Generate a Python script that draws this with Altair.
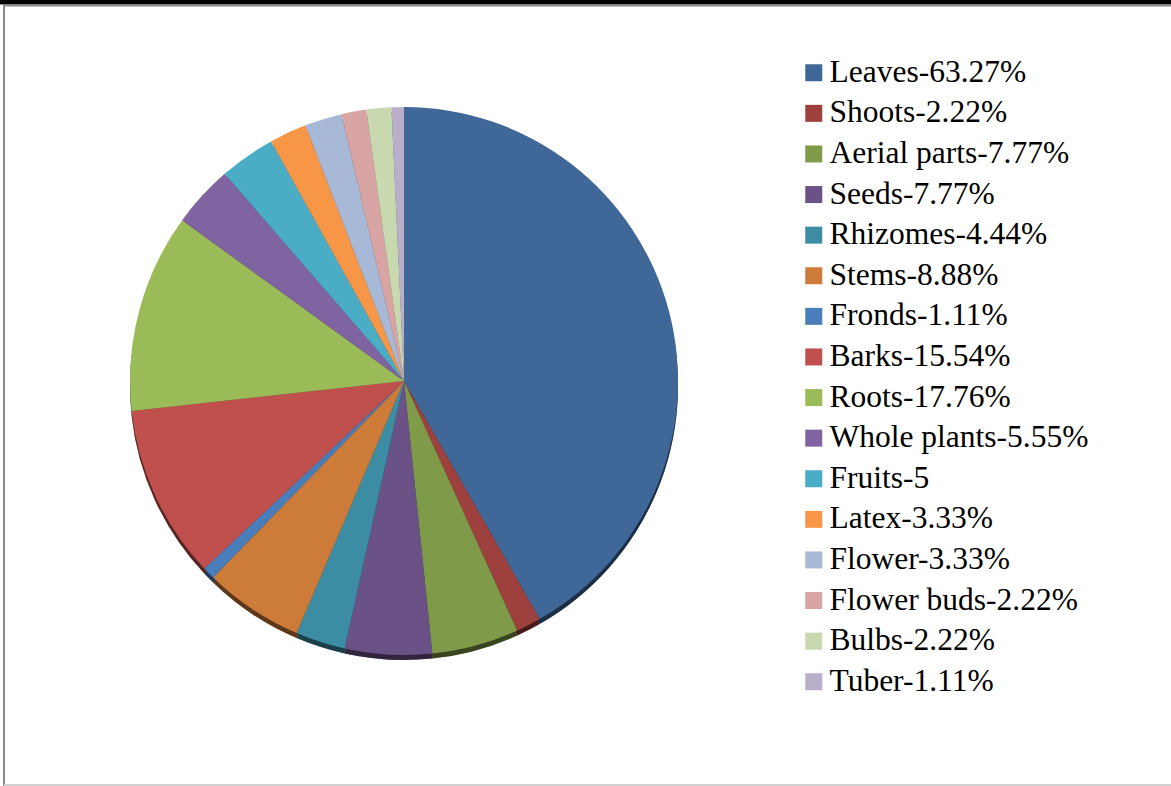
import altair as alt
import pandas as pd

# --- data ---
parts = ["Leaves-63.27%", "Shoots-2.22%", "Aerial parts-7.77%", "Seeds-7.77%",
         "Rhizomes-4.44%", "Stems-8.88%", "Fronds-1.11%", "Barks-15.54%",
         "Roots-17.76%", "Whole plants-5.55%", "Fruits-5", "Latex-3.33%",
         "Flower-3.33%", "Flower buds-2.22%", "Bulbs-2.22%", "Tuber-1.11%"]
values = [63.27, 2.22, 7.77, 7.77, 4.44, 8.88, 1.11, 15.54,
          17.76, 5.55, 5.0, 3.33, 3.33, 2.22, 2.22, 1.11]
colors = ["#3F6797", "#9E413E", "#7F9A48", "#6A5287", "#3C8DA3", "#CC7B38",
          "#4A7EBB", "#C0504D", "#9BBB59", "#8064A2", "#4BACC6", "#F79646",
          "#A7B9D7", "#D9A5A4", "#C8D9B0", "#BAAFCB"]

df = pd.DataFrame({"part": parts, "value": values, "idx": list(range(len(parts)))})

W, H = 1171, 786
CX, CY, R = 404, 381, 274
SERIF = "Times New Roman"

color_enc = alt.Color(
    "part:N",
    scale=alt.Scale(domain=parts, range=colors),
    sort=parts,
    legend=alt.Legend(
        title=None, orient="none", legendX=798, legendY=57,
        symbolType="square", symbolSize=289, symbolStrokeWidth=0,
        labelFont=SERIF, labelFontSize=31.5, labelColor="#000000",
        labelLimit=0, rowPadding=7.6, labelOffset=0, padding=0,
    ),
)

base = alt.Chart(df).encode(
    theta=alt.Theta("value:Q", stack=True),
    order=alt.Order("idx:Q"),
)

shadow = base.mark_arc(outerRadius=R).encode(
    color=color_enc, x=alt.value(CX), y=alt.value(CY + 5)
)
shadow_dark = base.mark_arc(outerRadius=R, color="#000000", opacity=0.55).encode(
    x=alt.value(CX), y=alt.value(CY + 5)
)
pie = base.mark_arc(outerRadius=R).encode(
    color=color_enc, x=alt.value(CX), y=alt.value(CY)
)

one = alt.Chart(pd.DataFrame({"a": [0]}))
top_black = one.mark_rule(color="#000000", strokeWidth=5).encode(
    x=alt.value(0), x2=alt.value(W), y=alt.value(2))
top_gray = one.mark_rule(color="#8a8a8a", strokeWidth=2).encode(
    x=alt.value(3), x2=alt.value(W), y=alt.value(5.5))
left_gray = one.mark_rule(color="#8a8a8a", strokeWidth=2).encode(
    x=alt.value(4), y=alt.value(5), y2=alt.value(H))
bottom_gray = one.mark_rule(color="#d0d0d0", strokeWidth=2).encode(
    x=alt.value(4), x2=alt.value(W), y=alt.value(785))

chart = alt.layer(shadow, shadow_dark, pie, top_black, top_gray, left_gray, bottom_gray).properties(
    width=W, height=H, padding=0, autosize=alt.AutoSizeParams(type="none"),
    background="#ffffff",
).configure(font=SERIF).configure_legend(labelFont=SERIF).configure_view(stroke=None)

chart.save("out.html", embed_options={"renderer": "svg", "actions": False})
